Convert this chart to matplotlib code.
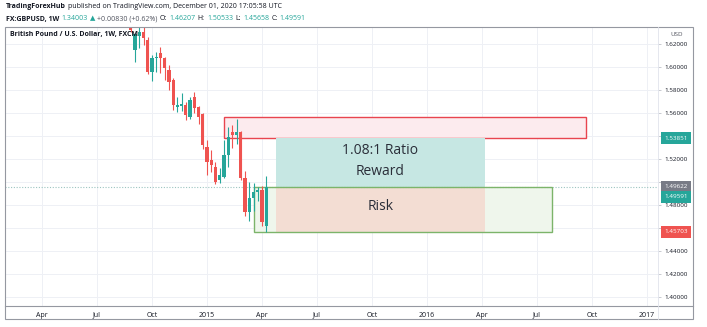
import matplotlib
matplotlib.use('Agg')
import matplotlib.pyplot as plt
import matplotlib.dates as mdates
import matplotlib.transforms as mtransforms
from matplotlib.patches import Rectangle
import pandas as pd

plt.rcParams['font.family'] = ['Open Sans', 'DejaVu Sans']

# Barras semanais GBP/USD (inicio da semana, domingo)
semanas = pd.date_range('2014-08-31', periods=33, freq='7D')
abertura = [1.6600, 1.6150, 1.6275, 1.6310, 1.6240, 1.5960, 1.6080, 1.6125, 1.6082, 1.5980,
            1.5890, 1.5655, 1.5660, 1.5673, 1.5568, 1.5740, 1.5655, 1.5590, 1.5307, 1.5194,
            1.5133, 1.5020, 1.5046, 1.5237, 1.5440, 1.5410, 1.5435, 1.5037, 1.4741, 1.4860,
            1.4915, 1.4932, 1.46207]
maxima = [1.6640, 1.6300, 1.6525, 1.6350, 1.6265, 1.6110, 1.6130, 1.6180, 1.6095, 1.6020,
          1.5910, 1.5745, 1.5780, 1.5700, 1.5745, 1.5785, 1.5665, 1.5605, 1.5368, 1.5280,
          1.5175, 1.5124, 1.5368, 1.5480, 1.5500, 1.5555, 1.5445, 1.5100, 1.5000, 1.4995,
          1.4960, 1.4965, 1.50533]
minima = [1.6310, 1.6050, 1.6165, 1.6195, 1.5945, 1.5880, 1.5960, 1.5950, 1.5890, 1.5800,
          1.5630, 1.5610, 1.5620, 1.5540, 1.5555, 1.5600, 1.5510, 1.5290, 1.5063, 1.5090,
          1.4985, 1.4990, 1.5040, 1.5130, 1.5300, 1.5330, 1.5020, 1.4710, 1.4660, 1.4750,
          1.4840, 1.4620, 1.45658]
fechamento = [1.6326, 1.6290, 1.6305, 1.6260, 1.5960, 1.6085, 1.6092, 1.6080, 1.5995, 1.5875,
              1.5675, 1.5673, 1.5680, 1.5586, 1.5716, 1.5650, 1.5568, 1.5320, 1.5176, 1.5150,
              1.5002, 1.5063, 1.5237, 1.5394, 1.5410, 1.5440, 1.5035, 1.4741, 1.4860, 1.4915,
              1.4930, 1.4654, 1.49591]

# Eixo de tempo
ticks_datas = ['2014-04-06', '2014-07-06', '2014-10-05', '2015-01-04', '2015-04-05', '2015-07-05',
               '2015-10-04', '2016-01-03', '2016-04-03', '2016-07-03', '2016-10-02', '2017-01-01']
ticks_rotulos = ['Apr', 'Jul', 'Oct', '2015', 'Apr', 'Jul', 'Oct', '2016', 'Apr', 'Jul', 'Oct', '2017']
precos_eixo = [1.40, 1.42, 1.44, 1.46, 1.48, 1.50, 1.52, 1.54, 1.56, 1.58, 1.60, 1.62]
# rotulos cobertos pelas etiquetas de preco
precos_ocultos = [1.46, 1.50, 1.54]

# Zonas desenhadas no grafico
zona_venda = ('2015-02-01', '2016-09-22', 1.53851, 1.5566)
zona_lucro = ('2015-04-28', '2016-04-08', 1.49622, 1.53851)
zona_risco = ('2015-04-28', '2016-04-08', 1.45703, 1.49622)
zona_verde = ('2015-03-22', '2016-07-28', 1.45703, 1.49622)
etiquetas = [(1.53851, '#26a69a', 0), (1.49622, '#787b86', 0), (1.49591, '#26a69a', -10), (1.45703, '#ef5350', 0)]

VERDE, VERMELHO = '#26a69a', '#ef5350'
W, H = 707, 327

fig = plt.figure(figsize=(W / 100, H / 100), dpi=100)
ax = fig.add_axes([5 / W, (H - 306) / H, 653 / W, 279 / H])

inicio = mdates.date2num(pd.Timestamp('2014-04-06'))
ax.set_xlim(inicio - 61.2, inicio + 1019.2)
ax.set_ylim(1.3922, 1.6352)

# grade
xt = mdates.date2num(pd.to_datetime(ticks_datas))
for x in xt:
    ax.axvline(x, color='#eef0f5', lw=0.7, zorder=0)
for p in precos_eixo:
    ax.axhline(p, color='#eef0f5', lw=0.7, zorder=0)

def retangulo(zona, face, borda=None, lw=1.0, z=1):
    x0 = mdates.date2num(pd.Timestamp(zona[0]))
    x1 = mdates.date2num(pd.Timestamp(zona[1]))
    ax.add_patch(Rectangle((x0, zona[2]), x1 - x0, zona[3] - zona[2], facecolor=face,
                           edgecolor=borda if borda else 'none', lw=lw, zorder=z))

retangulo(zona_verde, '#eff6ec', z=1)
retangulo(zona_lucro, '#c6e7e3', z=1.5)
retangulo(zona_risco, '#f3ddd3', z=1.5)
retangulo(zona_verde, 'none', '#7cb46a', 1.0, z=2)
retangulo(zona_venda, '#fcebee', '#e8454f', 1.0, z=1)

ax.axhline(1.49622, color='#9cc4c0', lw=0.8, ls=(0, (1, 1.5)), zorder=1.8)

# velas
x = mdates.date2num(semanas)
for i in range(len(x)):
    cor = VERDE if fechamento[i] >= abertura[i] else VERMELHO
    ax.vlines(x[i], minima[i], maxima[i], color=cor, lw=0.8, zorder=3)
    base = min(abertura[i], fechamento[i])
    altura = max(abs(fechamento[i] - abertura[i]), 0.0005)
    ax.bar(x[i], altura, bottom=base, width=5.4, color=cor, zorder=3)

meio = (mdates.date2num(pd.Timestamp(zona_lucro[0])) + mdates.date2num(pd.Timestamp(zona_lucro[1]))) / 2
ax.text(meio, 1.5275, '1.08:1 Ratio', ha='center', va='center', fontsize=10, color='#2a2e39', zorder=4)
ax.text(meio, 1.5092, 'Reward', ha='center', va='center', fontsize=10, color='#2a2e39', zorder=4)
ax.text(meio, 1.4787, 'Risk', ha='center', va='center', fontsize=10, color='#2a2e39', zorder=4)

ax.text(5 / 653, 1.6290, 'British Pound / U.S. Dollar, 1W, FXCM', transform=ax.get_yaxis_transform(),
        fontsize=5, fontweight='bold', color='#131722', va='center', ha='left', zorder=5)

# eixos
ax.set_xticks(xt)
ax.set_xticklabels(ticks_rotulos)
ax.tick_params(axis='x', length=0, pad=4, labelsize=5, labelcolor='#131722')
ax.yaxis.tick_right()
ax.set_yticks(precos_eixo)
ax.set_yticklabels(['' if p in precos_ocultos else '%.5f' % p for p in precos_eixo])
ax.tick_params(axis='y', length=2, width=0.5, color='#b2b5be', pad=2.5, labelsize=4.5, labelcolor='#131722')
for s in ax.spines.values():
    s.set_visible(False)

for preco, cor, desloc in etiquetas:
    tr = mtransforms.offset_copy(ax.get_yaxis_transform(), fig=fig, y=desloc, units='dots')
    ax.text(1.0 + 6.5 / 653, preco, '%.5f' % preco, transform=tr, fontsize=4.5, color='white',
            ha='left', va='center', clip_on=False, zorder=6,
            bbox=dict(boxstyle='square,pad=0.55', facecolor=cor, edgecolor='none'))

fig.text(677 / W, 1 - 34 / H, 'USD', fontsize=4.5, color='#50535e', ha='center', va='center')

# moldura
fig.add_artist(Rectangle((5 / W, (H - 319) / H), 688 / W, 292 / H, transform=fig.transFigure,
                         fill=False, edgecolor='#9598a1', lw=0.8))
fig.add_artist(plt.Line2D([5 / W, 693 / W], [(H - 306) / H] * 2, transform=fig.transFigure,
                          color='#9598a1', lw=0.8))
fig.add_artist(plt.Line2D([658 / W, 658 / W], [(H - 319) / H, (H - 27) / H], transform=fig.transFigure,
                          color='#e0e3eb', lw=0.6))

# cabecalho em varias cores
def escrever(x_px, y_px, partes, tamanho):
    r = fig.canvas.get_renderer()
    for texto, cor, peso in partes:
        t = fig.text(x_px / W, 1 - y_px / H, texto, color=cor, fontweight=peso, fontsize=tamanho,
                     va='center', ha='left')
        x_px += t.get_window_extent(renderer=r).width + 2.2

escrever(6, 7, [('TradingForexHub', '#131722', 'bold'),
                ('published on TradingView.com, December 01, 2020 17:05:58 UTC', '#131722', 'normal')], 5)
escrever(6, 19, [('FX:GBPUSD, 1W', '#131722', 'bold'), ('1.34003', VERDE, 'normal'),
                 ('\u25b2', VERDE, 'normal'), ('+0.00830 (+0.62%)', '#50535e', 'normal'),
                 ('O:', '#131722', 'normal'), ('1.46207', VERDE, 'normal'),
                 ('H:', '#131722', 'normal'), ('1.50533', VERDE, 'normal'),
                 ('L:', '#131722', 'normal'), ('1.45658', VERDE, 'normal'),
                 ('C:', '#131722', 'normal'), ('1.49591', VERDE, 'normal')], 5)

fig.savefig('out.png', dpi=100, facecolor='white')
